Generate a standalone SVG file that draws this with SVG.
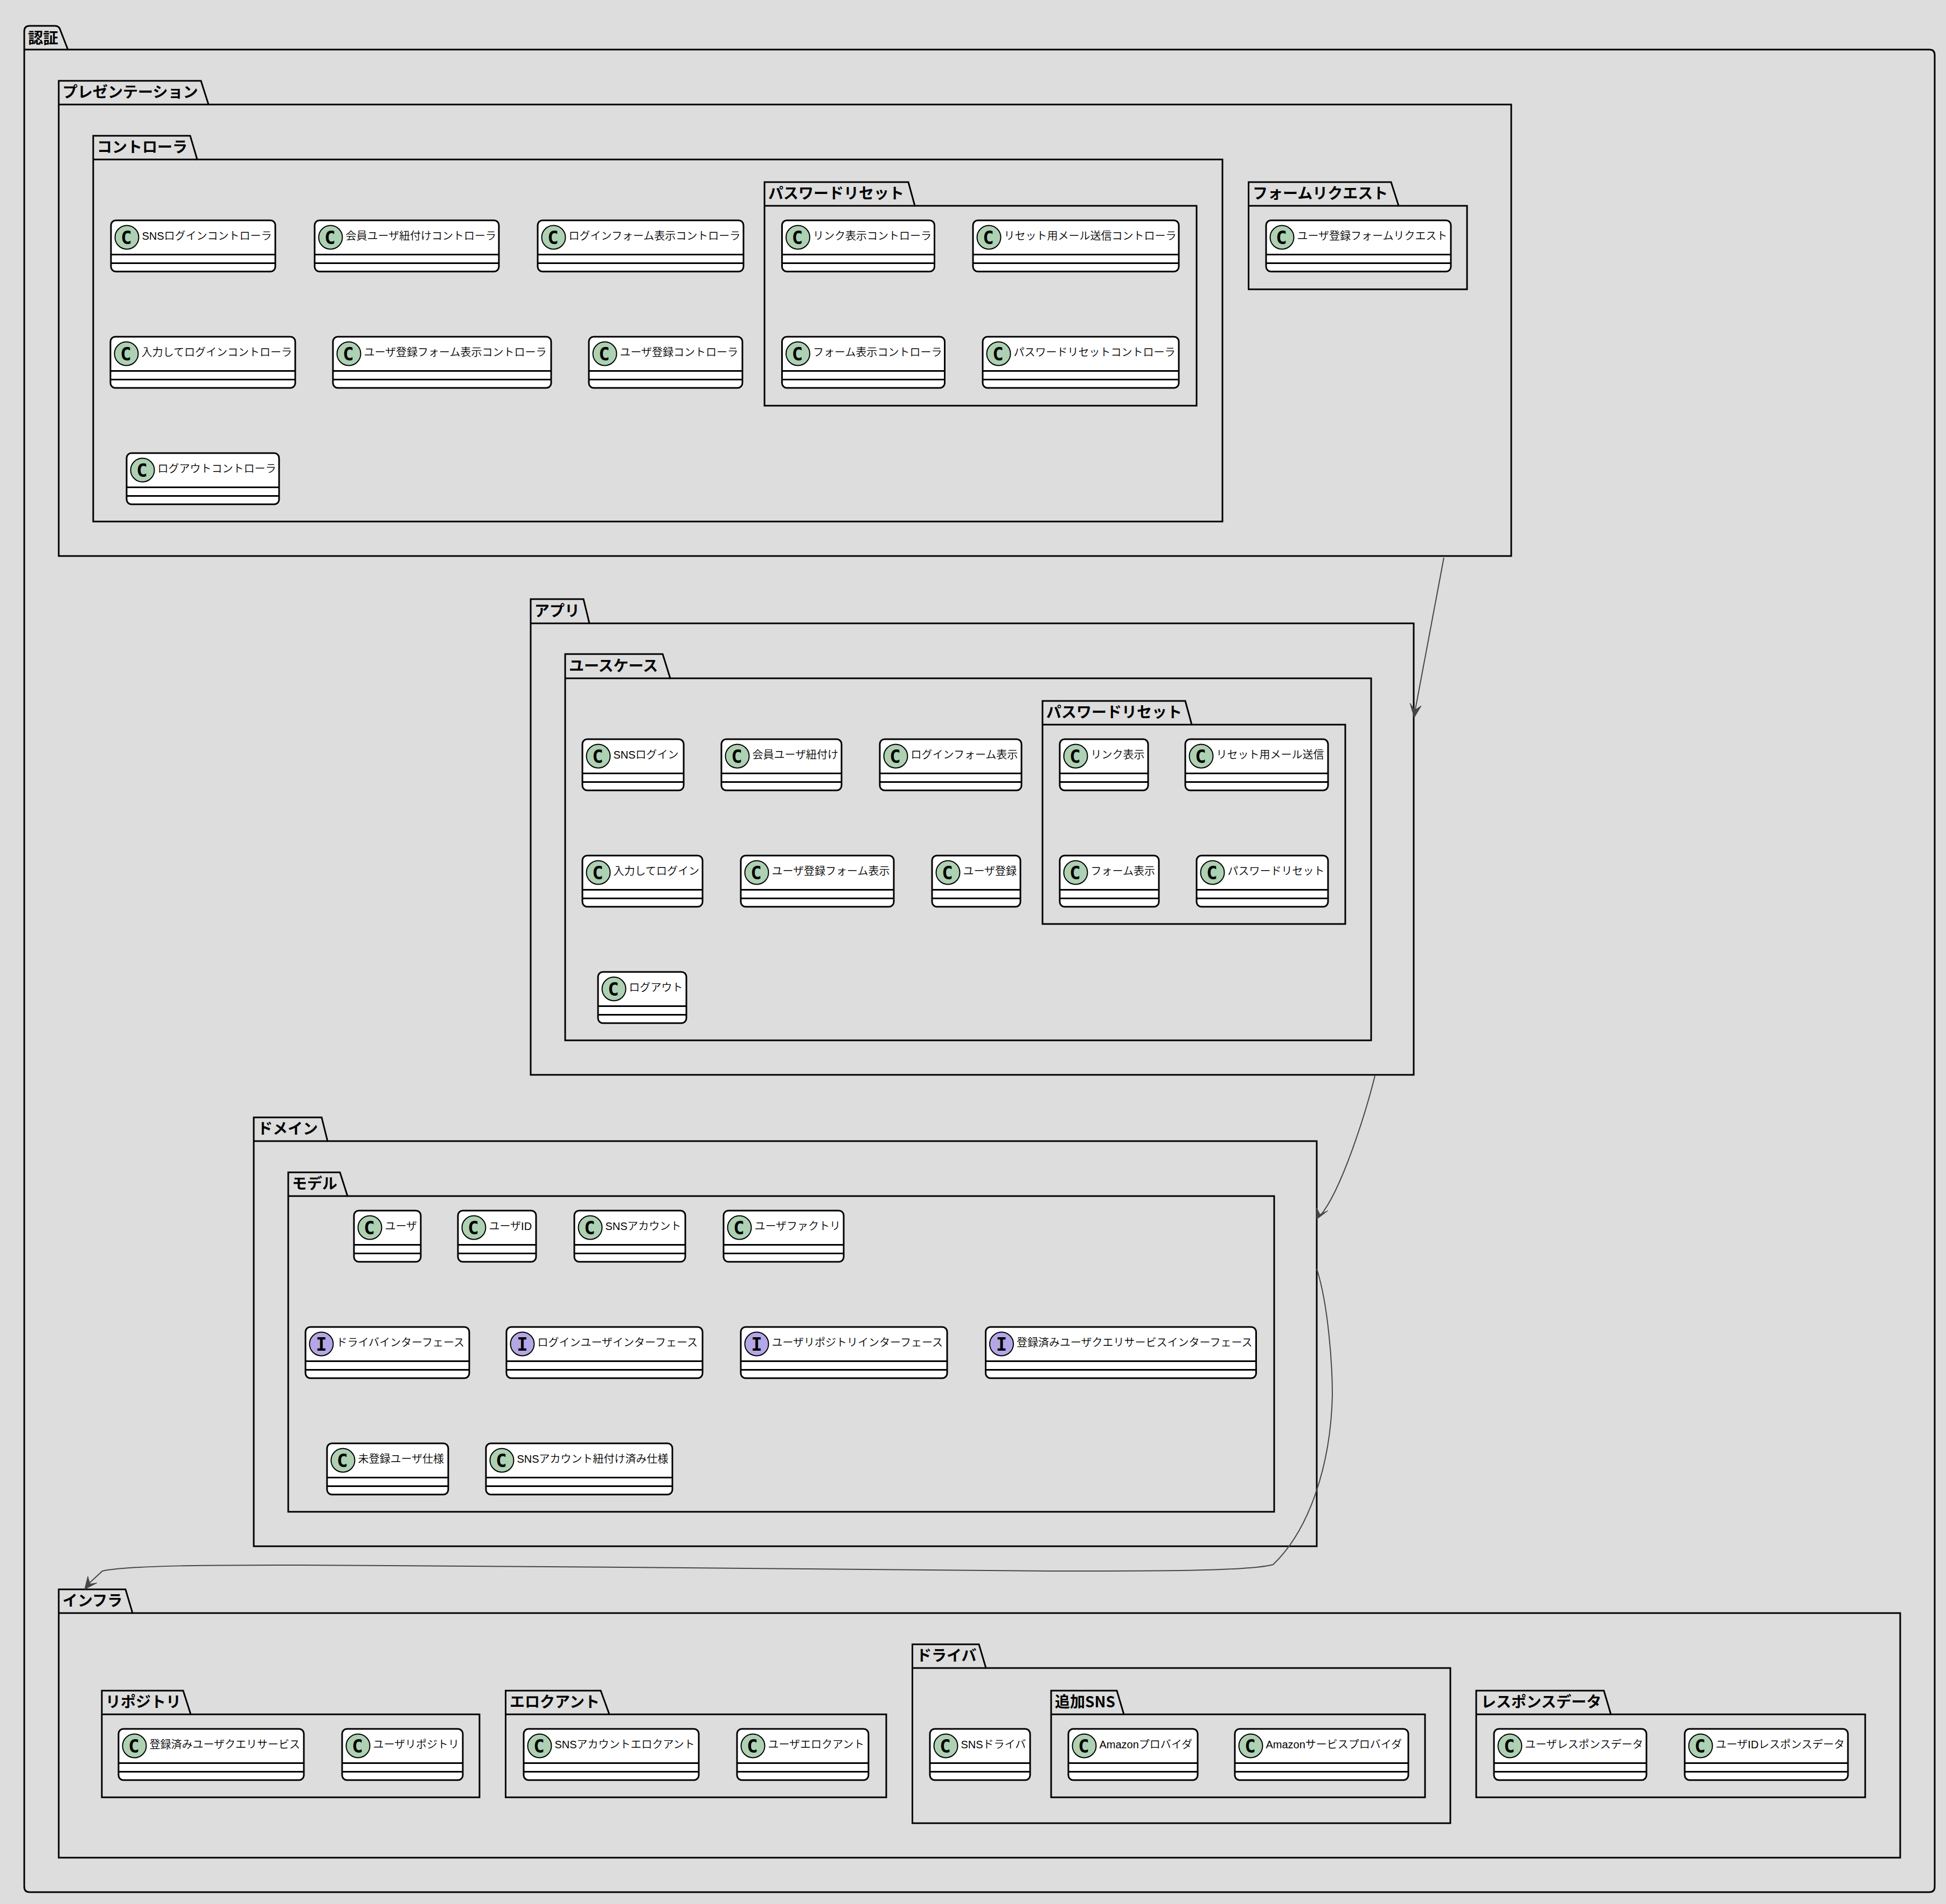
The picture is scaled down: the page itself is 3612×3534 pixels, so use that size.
<svg xmlns="http://www.w3.org/2000/svg" width="3612" height="3534" viewBox="0 0 3612 3534">
<style>
.p{fill:none;stroke:#000;stroke-width:3}
.t{font:bold 28px "Noto Sans CJK JP","Liberation Sans",sans-serif;fill:#000}
.b{fill:#fff;stroke:#000;stroke-width:3}
.l{stroke:#000;stroke-width:3;fill:none}
.ci{fill:#ADD1B2;stroke:#000;stroke-width:2}
.ii{fill:#B4A7E5;stroke:#000;stroke-width:2}
.g{font:bold 34px "DejaVu Sans Mono",monospace;fill:#000;text-anchor:middle}
.n{font:350 20px "Liberation Sans","Noto Sans CJK JP",sans-serif;fill:#000}
.a{fill:none;stroke:#454645;stroke-width:2}
.h{fill:#454645;stroke:#454645;stroke-width:1}
</style>
<rect width="3612" height="3534" fill="#DDDDDD"/>
<g id="pkg-auth"><path class="p" d="M45,92V58Q45,48 55,48H102Q110,48 112,56L126,92H3581Q3591,92 3591,102V3502Q3591,3512 3581,3512H55Q45,3512 45,3502V92"/><path class="l" d="M45,92H126"/><text class="t" x="52" y="81">認証</text></g>
<g id="pkg-presentation"><path class="p" d="M109,194V150H373L387,194H2805V1032H109Z"/><path class="l" d="M109,194H387"/><text class="t" x="116" y="181">プレゼンテーション</text></g>
<g id="pkg-controller"><path class="p" d="M173,296V252H353L366,296H2269V968H173Z"/><path class="l" d="M173,296H366"/><text class="t" x="180" y="283">コントローラ</text></g>
<g id="pkg-pwreset1"><path class="p" d="M1419,382V338H1686L1698,382H2221V753H1419Z"/><path class="l" d="M1419,382H1698"/><text class="t" x="1426" y="369">パスワードリセット</text></g>
<g id="pkg-formrequest"><path class="p" d="M2317.5,382V338H2582L2596,382H2723V537H2317.5Z"/><path class="l" d="M2317.5,382H2596"/><text class="t" x="2325" y="369">フォームリクエスト</text></g>
<g id="pkg-app"><path class="p" d="M985,1157V1112H1083L1094,1157H2624V1995H985Z"/><path class="l" d="M985,1157H1094"/><text class="t" x="992" y="1144">アプリ</text></g>
<g id="pkg-usecase"><path class="p" d="M1049,1259V1214H1230L1244,1259H2545V1931H1049Z"/><path class="l" d="M1049,1259H1244"/><text class="t" x="1056" y="1246">ユースケース</text></g>
<g id="pkg-pwreset2"><path class="p" d="M1935,1345V1301H2200L2212,1345H2497V1715H1935Z"/><path class="l" d="M1935,1345H2212"/><text class="t" x="1942" y="1332">パスワードリセット</text></g>
<g id="pkg-domain"><path class="p" d="M471,2118V2074H597L608,2118H2444V2870H471Z"/><path class="l" d="M471,2118H608"/><text class="t" x="478" y="2105">ドメイン</text></g>
<g id="pkg-model"><path class="p" d="M535,2220V2176H631L645,2220H2365V2806H535Z"/><path class="l" d="M535,2220H645"/><text class="t" x="542" y="2207">モデル</text></g>
<g id="pkg-infra"><path class="p" d="M109,2994V2950H233L246,2994H3527V3448H109Z"/><path class="l" d="M109,2994H246"/><text class="t" x="116" y="2981">インフラ</text></g>
<g id="pkg-repository"><path class="p" d="M189,3182V3138H340L354,3182H890V3336H189Z"/><path class="l" d="M189,3182H354"/><text class="t" x="196" y="3169">リポジトリ</text></g>
<g id="pkg-eloquent"><path class="p" d="M938.5,3182V3138H1115L1131,3182H1645V3336H938.5Z"/><path class="l" d="M938.5,3182H1131"/><text class="t" x="946" y="3169">エロクアント</text></g>
<g id="pkg-driver"><path class="p" d="M1693.5,3096V3052H1817L1830,3096H2692V3384H1693.5Z"/><path class="l" d="M1693.5,3096H1830"/><text class="t" x="1701" y="3083">ドライバ</text></g>
<g id="pkg-addsns"><path class="p" d="M1951,3182V3138H2073L2086,3182H2645V3336H1951Z"/><path class="l" d="M1951,3182H2086"/><text class="t" x="1958" y="3169">追加SNS</text></g>
<g id="pkg-response"><path class="p" d="M2740,3182V3138H2977L2990,3182H3462V3336H2740Z"/><path class="l" d="M2740,3182H2990"/><text class="t" x="2749" y="3169">レスポンスデータ</text></g>

<g id="c01" transform="translate(206,408)"><rect class="b" y="1" width="305" height="95" rx="9"/><path class="l" d="M0,64.5H305M0,80.5H305"/><circle class="ci" cx="29.5" cy="32.5" r="22"/><text class="g" x="28.5" y="45">C</text><text class="n" x="57.5" y="37">SNSログインコントローラ</text></g>
<g id="c02" transform="translate(584,408)"><rect class="b" y="1" width="342" height="95" rx="9"/><path class="l" d="M0,64.5H342M0,80.5H342"/><circle class="ci" cx="29.5" cy="32.5" r="22"/><text class="g" x="28.5" y="45">C</text><text class="n" x="57.5" y="37">会員ユーザ紐付けコントローラ</text></g>
<g id="c03" transform="translate(998,408)"><rect class="b" y="1" width="382" height="95" rx="9"/><path class="l" d="M0,64.5H382M0,80.5H382"/><circle class="ci" cx="29.5" cy="32.5" r="22"/><text class="g" x="28.5" y="45">C</text><text class="n" x="57.5" y="37">ログインフォーム表示コントローラ</text></g>
<g id="c04" transform="translate(1451.5,408)"><rect class="b" y="1" width="283" height="95" rx="9"/><path class="l" d="M0,64.5H283M0,80.5H283"/><circle class="ci" cx="29.5" cy="32.5" r="22"/><text class="g" x="28.5" y="45">C</text><text class="n" x="57.5" y="37">リンク表示コントローラ</text></g>
<g id="c05" transform="translate(1806,408)"><rect class="b" y="1" width="382" height="95" rx="9"/><path class="l" d="M0,64.5H382M0,80.5H382"/><circle class="ci" cx="29.5" cy="32.5" r="22"/><text class="g" x="28.5" y="45">C</text><text class="n" x="57.5" y="37">リセット用メール送信コントローラ</text></g>
<g id="c06" transform="translate(205,624)"><rect class="b" y="1" width="343" height="95" rx="9"/><path class="l" d="M0,64.5H343M0,80.5H343"/><circle class="ci" cx="29.5" cy="32.5" r="22"/><text class="g" x="28.5" y="45">C</text><text class="n" x="57.5" y="37">入力してログインコントローラ</text></g>
<g id="c07" transform="translate(618,624)"><rect class="b" y="1" width="405" height="95" rx="9"/><path class="l" d="M0,64.5H405M0,80.5H405"/><circle class="ci" cx="29.5" cy="32.5" r="22"/><text class="g" x="28.5" y="45">C</text><text class="n" x="57.5" y="37">ユーザ登録フォーム表示コントローラ</text></g>
<g id="c08" transform="translate(1093,624)"><rect class="b" y="1" width="285" height="95" rx="9"/><path class="l" d="M0,64.5H285M0,80.5H285"/><circle class="ci" cx="29.5" cy="32.5" r="22"/><text class="g" x="28.5" y="45">C</text><text class="n" x="57.5" y="37">ユーザ登録コントローラ</text></g>
<g id="c09" transform="translate(1451.5,624)"><rect class="b" y="1" width="302" height="95" rx="9"/><path class="l" d="M0,64.5H302M0,80.5H302"/><circle class="ci" cx="29.5" cy="32.5" r="22"/><text class="g" x="28.5" y="45">C</text><text class="n" x="57.5" y="37">フォーム表示コントローラ</text></g>
<g id="c10" transform="translate(1824,624)"><rect class="b" y="1" width="364" height="95" rx="9"/><path class="l" d="M0,64.5H364M0,80.5H364"/><circle class="ci" cx="29.5" cy="32.5" r="22"/><text class="g" x="28.5" y="45">C</text><text class="n" x="57.5" y="37">パスワードリセットコントローラ</text></g>
<g id="c11" transform="translate(235,840)"><rect class="b" y="1" width="283" height="95" rx="9"/><path class="l" d="M0,64.5H283M0,80.5H283"/><circle class="ci" cx="29.5" cy="32.5" r="22"/><text class="g" x="28.5" y="45">C</text><text class="n" x="57.5" y="37">ログアウトコントローラ</text></g>
<g id="c12" transform="translate(2350,408)"><rect class="b" y="1" width="343" height="95" rx="9"/><path class="l" d="M0,64.5H343M0,80.5H343"/><circle class="ci" cx="29.5" cy="32.5" r="22"/><text class="g" x="28.5" y="45">C</text><text class="n" x="57.5" y="37">ユーザ登録フォームリクエスト</text></g>

<g id="u01" transform="translate(1081,1371)"><rect class="b" y="1" width="188" height="95" rx="9"/><path class="l" d="M0,64.5H188M0,80.5H188"/><circle class="ci" cx="29.5" cy="32.5" r="22"/><text class="g" x="28.5" y="45">C</text><text class="n" x="57.5" y="37">SNSログイン</text></g>
<g id="u02" transform="translate(1339,1371)"><rect class="b" y="1" width="223" height="95" rx="9"/><path class="l" d="M0,64.5H223M0,80.5H223"/><circle class="ci" cx="29.5" cy="32.5" r="22"/><text class="g" x="28.5" y="45">C</text><text class="n" x="57.5" y="37">会員ユーザ紐付け</text></g>
<g id="u03" transform="translate(1633,1371)"><rect class="b" y="1" width="263" height="95" rx="9"/><path class="l" d="M0,64.5H263M0,80.5H263"/><circle class="ci" cx="29.5" cy="32.5" r="22"/><text class="g" x="28.5" y="45">C</text><text class="n" x="57.5" y="37">ログインフォーム表示</text></g>
<g id="u04" transform="translate(1967,1371)"><rect class="b" y="1" width="164" height="95" rx="9"/><path class="l" d="M0,64.5H164M0,80.5H164"/><circle class="ci" cx="29.5" cy="32.5" r="22"/><text class="g" x="28.5" y="45">C</text><text class="n" x="57.5" y="37">リンク表示</text></g>
<g id="u05" transform="translate(2200,1371)"><rect class="b" y="1" width="265" height="95" rx="9"/><path class="l" d="M0,64.5H265M0,80.5H265"/><circle class="ci" cx="29.5" cy="32.5" r="22"/><text class="g" x="28.5" y="45">C</text><text class="n" x="57.5" y="37">リセット用メール送信</text></g>
<g id="u06" transform="translate(1081,1587)"><rect class="b" y="1" width="223" height="95" rx="9"/><path class="l" d="M0,64.5H223M0,80.5H223"/><circle class="ci" cx="29.5" cy="32.5" r="22"/><text class="g" x="28.5" y="45">C</text><text class="n" x="57.5" y="37">入力してログイン</text></g>
<g id="u07" transform="translate(1375,1587)"><rect class="b" y="1" width="284" height="95" rx="9"/><path class="l" d="M0,64.5H284M0,80.5H284"/><circle class="ci" cx="29.5" cy="32.5" r="22"/><text class="g" x="28.5" y="45">C</text><text class="n" x="57.5" y="37">ユーザ登録フォーム表示</text></g>
<g id="u08" transform="translate(1730,1587)"><rect class="b" y="1" width="164" height="95" rx="9"/><path class="l" d="M0,64.5H164M0,80.5H164"/><circle class="ci" cx="29.5" cy="32.5" r="22"/><text class="g" x="28.5" y="45">C</text><text class="n" x="57.5" y="37">ユーザ登録</text></g>
<g id="u09" transform="translate(1967,1587)"><rect class="b" y="1" width="184" height="95" rx="9"/><path class="l" d="M0,64.5H184M0,80.5H184"/><circle class="ci" cx="29.5" cy="32.5" r="22"/><text class="g" x="28.5" y="45">C</text><text class="n" x="57.5" y="37">フォーム表示</text></g>
<g id="u10" transform="translate(2221,1587)"><rect class="b" y="1" width="244" height="95" rx="9"/><path class="l" d="M0,64.5H244M0,80.5H244"/><circle class="ci" cx="29.5" cy="32.5" r="22"/><text class="g" x="28.5" y="45">C</text><text class="n" x="57.5" y="37">パスワードリセット</text></g>
<g id="u11" transform="translate(1110,1803)"><rect class="b" y="1" width="164" height="95" rx="9"/><path class="l" d="M0,64.5H164M0,80.5H164"/><circle class="ci" cx="29.5" cy="32.5" r="22"/><text class="g" x="28.5" y="45">C</text><text class="n" x="57.5" y="37">ログアウト</text></g>

<g id="m01" transform="translate(657,2246)"><rect class="b" y="1" width="124" height="95" rx="9"/><path class="l" d="M0,64.5H124M0,80.5H124"/><circle class="ci" cx="29.5" cy="32.5" r="22"/><text class="g" x="28.5" y="45">C</text><text class="n" x="57.5" y="37">ユーザ</text></g>
<g id="m02" transform="translate(850,2246)"><rect class="b" y="1" width="145" height="95" rx="9"/><path class="l" d="M0,64.5H145M0,80.5H145"/><circle class="ci" cx="29.5" cy="32.5" r="22"/><text class="g" x="28.5" y="45">C</text><text class="n" x="57.5" y="37">ユーザID</text></g>
<g id="m03" transform="translate(1066,2246)"><rect class="b" y="1" width="206" height="95" rx="9"/><path class="l" d="M0,64.5H206M0,80.5H206"/><circle class="ci" cx="29.5" cy="32.5" r="22"/><text class="g" x="28.5" y="45">C</text><text class="n" x="57.5" y="37">SNSアカウント</text></g>
<g id="m04" transform="translate(1343,2246)"><rect class="b" y="1" width="223" height="95" rx="9"/><path class="l" d="M0,64.5H223M0,80.5H223"/><circle class="ci" cx="29.5" cy="32.5" r="22"/><text class="g" x="28.5" y="45">C</text><text class="n" x="57.5" y="37">ユーザファクトリ</text></g>
<g id="m05" transform="translate(567,2462)"><rect class="b" y="1" width="304" height="95" rx="9"/><path class="l" d="M0,64.5H304M0,80.5H304"/><circle class="ii" cx="29.5" cy="32.5" r="22"/><text class="g" x="29.5" y="45">I</text><text class="n" x="57.5" y="37">ドライバインターフェース</text></g>
<g id="m06" transform="translate(940,2462)"><rect class="b" y="1" width="364" height="95" rx="9"/><path class="l" d="M0,64.5H364M0,80.5H364"/><circle class="ii" cx="29.5" cy="32.5" r="22"/><text class="g" x="29.5" y="45">I</text><text class="n" x="57.5" y="37">ログインユーザインターフェース</text></g>
<g id="m07" transform="translate(1375,2462)"><rect class="b" y="1" width="383" height="95" rx="9"/><path class="l" d="M0,64.5H383M0,80.5H383"/><circle class="ii" cx="29.5" cy="32.5" r="22"/><text class="g" x="29.5" y="45">I</text><text class="n" x="57.5" y="37">ユーザリポジトリインターフェース</text></g>
<g id="m08" transform="translate(1829.5,2462)"><rect class="b" y="1" width="502" height="95" rx="9"/><path class="l" d="M0,64.5H502M0,80.5H502"/><circle class="ii" cx="29.5" cy="32.5" r="22"/><text class="g" x="29.5" y="45">I</text><text class="n" x="57.5" y="37">登録済みユーザクエリサービスインターフェース</text></g>
<g id="m09" transform="translate(607,2678)"><rect class="b" y="1" width="225" height="95" rx="9"/><path class="l" d="M0,64.5H225M0,80.5H225"/><circle class="ci" cx="29.5" cy="32.5" r="22"/><text class="g" x="28.5" y="45">C</text><text class="n" x="57.5" y="37">未登録ユーザ仕様</text></g>
<g id="m10" transform="translate(902,2678)"><rect class="b" y="1" width="346" height="95" rx="9"/><path class="l" d="M0,64.5H346M0,80.5H346"/><circle class="ci" cx="29.5" cy="32.5" r="22"/><text class="g" x="28.5" y="45">C</text><text class="n" x="57.5" y="37">SNSアカウント紐付け済み仕様</text></g>

<g id="i01" transform="translate(220,3208)"><rect class="b" y="1" width="344" height="95" rx="9"/><path class="l" d="M0,64.5H344M0,80.5H344"/><circle class="ci" cx="29.5" cy="32.5" r="22"/><text class="g" x="28.5" y="45">C</text><text class="n" x="57.5" y="37">登録済みユーザクエリサービス</text></g>
<g id="i02" transform="translate(635,3208)"><rect class="b" y="1" width="224" height="95" rx="9"/><path class="l" d="M0,64.5H224M0,80.5H224"/><circle class="ci" cx="29.5" cy="32.5" r="22"/><text class="g" x="28.5" y="45">C</text><text class="n" x="57.5" y="37">ユーザリポジトリ</text></g>
<g id="i03" transform="translate(972,3208)"><rect class="b" y="1" width="325" height="95" rx="9"/><path class="l" d="M0,64.5H325M0,80.5H325"/><circle class="ci" cx="29.5" cy="32.5" r="22"/><text class="g" x="28.5" y="45">C</text><text class="n" x="57.5" y="37">SNSアカウントエロクアント</text></g>
<g id="i04" transform="translate(1368,3208)"><rect class="b" y="1" width="244" height="95" rx="9"/><path class="l" d="M0,64.5H244M0,80.5H244"/><circle class="ci" cx="29.5" cy="32.5" r="22"/><text class="g" x="28.5" y="45">C</text><text class="n" x="57.5" y="37">ユーザエロクアント</text></g>
<g id="i05" transform="translate(1726,3208)"><rect class="b" y="1" width="186" height="95" rx="9"/><path class="l" d="M0,64.5H186M0,80.5H186"/><circle class="ci" cx="29.5" cy="32.5" r="22"/><text class="g" x="28.5" y="45">C</text><text class="n" x="57.5" y="37">SNSドライバ</text></g>
<g id="i06" transform="translate(1983,3208)"><rect class="b" y="1" width="240" height="95" rx="9"/><path class="l" d="M0,64.5H240M0,80.5H240"/><circle class="ci" cx="29.5" cy="32.5" r="22"/><text class="g" x="28.5" y="45">C</text><text class="n" x="57.5" y="37">Amazonプロバイダ</text></g>
<g id="i07" transform="translate(2292,3208)"><rect class="b" y="1" width="322" height="95" rx="9"/><path class="l" d="M0,64.5H322M0,80.5H322"/><circle class="ci" cx="29.5" cy="32.5" r="22"/><text class="g" x="28.5" y="45">C</text><text class="n" x="57.5" y="37">Amazonサービスプロバイダ</text></g>
<g id="i08" transform="translate(2773,3208)"><rect class="b" y="1" width="283" height="95" rx="9"/><path class="l" d="M0,64.5H283M0,80.5H283"/><circle class="ci" cx="29.5" cy="32.5" r="22"/><text class="g" x="28.5" y="45">C</text><text class="n" x="57.5" y="37">ユーザレスポンスデータ</text></g>
<g id="i09" transform="translate(3127,3208)"><rect class="b" y="1" width="303" height="95" rx="9"/><path class="l" d="M0,64.5H303M0,80.5H303"/><circle class="ci" cx="29.5" cy="32.5" r="22"/><text class="g" x="28.5" y="45">C</text><text class="n" x="57.5" y="37">ユーザIDレスポンスデータ</text></g>

<g id="connectors">
<path class="a" d="M2680,1035L2626,1322"/><path class="h" d="M2625,1332L2617,1305L2626,1318L2638,1310Z"/>
<path class="a" d="M2552,1997C2535,2065 2490,2210 2450,2257"/><path class="h" d="M2444,2263L2444,2242L2450,2254L2465,2247Z"/>
<path class="a" d="M2444,2355C2465,2420 2473,2530 2473,2590C2470,2720 2430,2840 2363,2904C2320,2916 2150,2916 1950,2916C1600,2916 1000,2905 561,2905C400,2905 240,2905 190,2916L164,2940"/><path class="h" d="M157,2950L163,2926L167,2940L180,2938Z"/>
</g>
</svg>
